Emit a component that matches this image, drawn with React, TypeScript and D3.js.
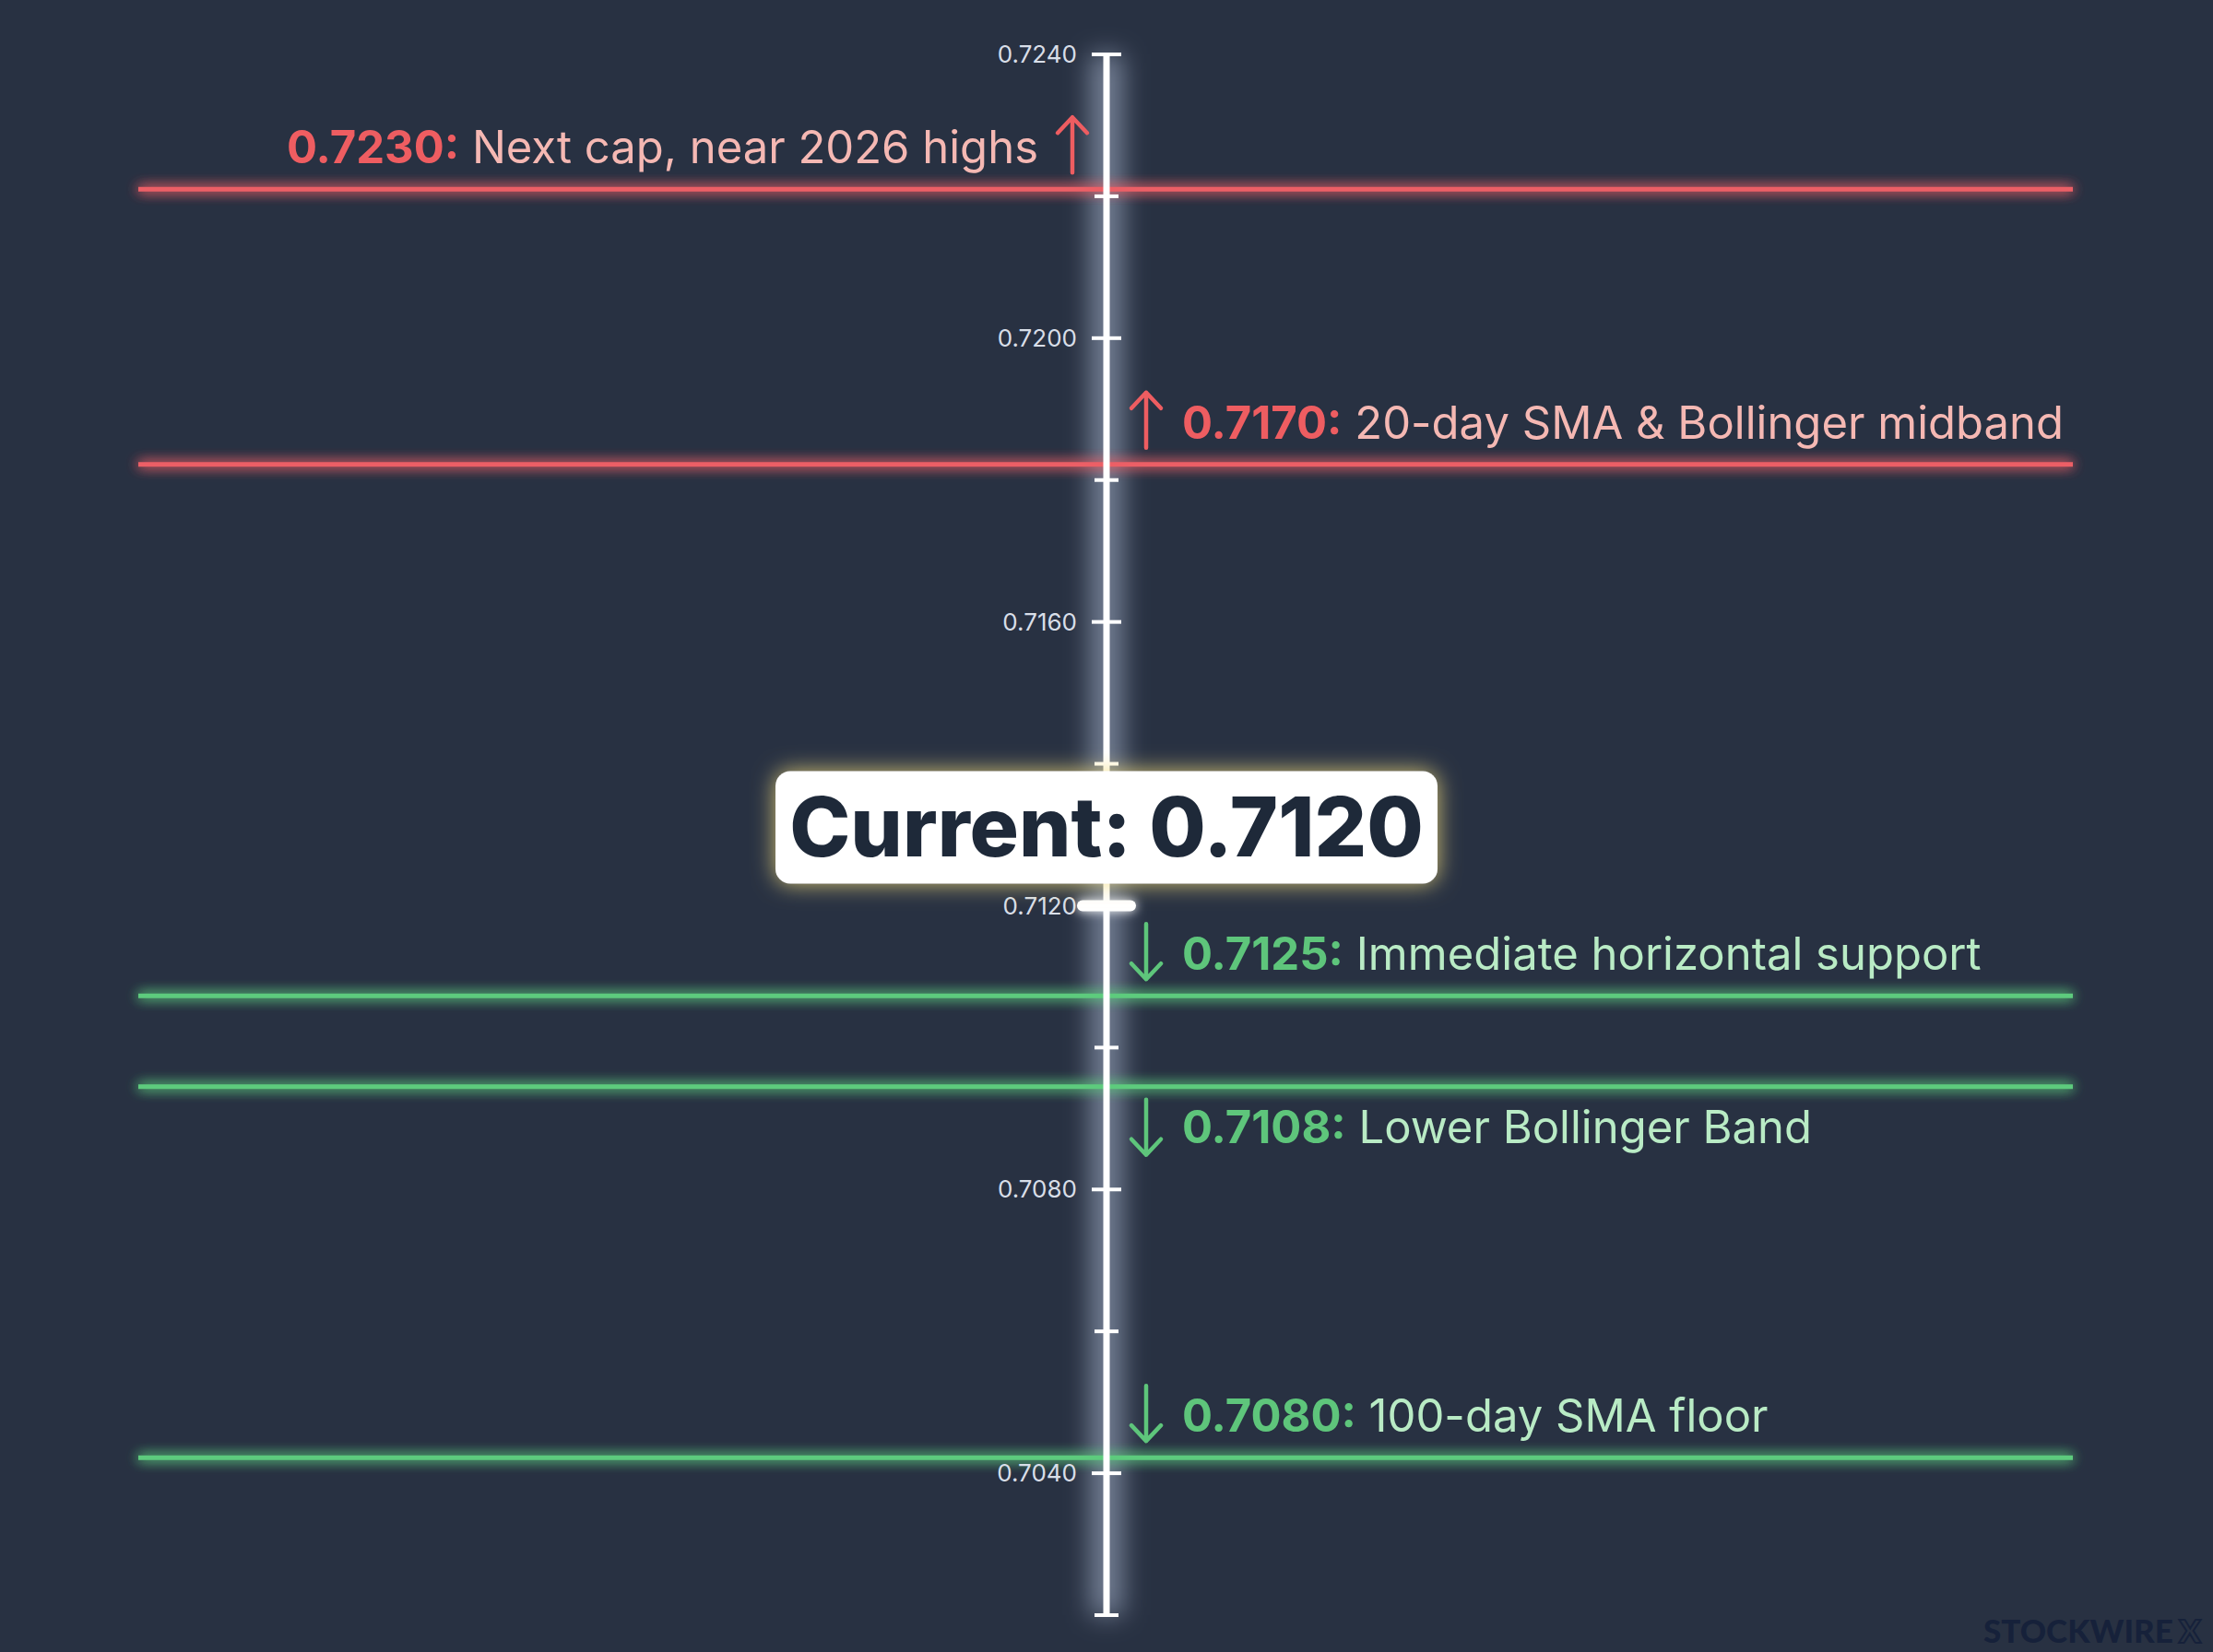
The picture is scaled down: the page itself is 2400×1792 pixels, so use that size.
import React from "react";
import * as d3 from "d3";

const W = 2400;
const H = 1792;

// axis
const axisTicks = [0.724, 0.722, 0.72, 0.718, 0.716, 0.714, 0.712, 0.71, 0.708, 0.706, 0.704, 0.702];
const labelledTicks = [0.724, 0.72, 0.716, 0.712, 0.708, 0.704];
const currentPrice = 0.712;

// levels: stated value, where the line sits on the axis, kind, note
const levelValues = ["0.7230", "0.7170", "0.7125", "0.7108", "0.7080"];
const levelPlotted = [0.7221, 0.71822, 0.71073, 0.70945, 0.70422];
const levelKinds = ["resistance", "resistance", "support", "support", "support"];
const levelNotes = [
  "Next cap, near 2026 highs",
  "20-day SMA & Bollinger midband",
  "Immediate horizontal support",
  "Lower Bollinger Band",
  "100-day SMA floor",
];

const COLORS: Record<string, { line: string; value: string; note: string }> = {
  resistance: { line: "#ec5f66", value: "#ee5d61", note: "#f5b8b3" },
  support: { line: "#5dcb7d", value: "#5ec57b", note: "#b9ebc5" },
};

const BG = "#283142";
const FONT = "Inter, 'Noto Sans', sans-serif";

const App: React.FC = () => {
  const axisX = 1200;
  const y = d3.scaleLinear().domain([0.702, 0.724]).range([1752, 59]);
  const x = d3.scaleLinear().domain([0, 1]).range([150, 2248]);

  const arrow = (cx: number, top: number, bottom: number, up: boolean, color: string) => {
    const head = up ? top : bottom;
    const dir = up ? 1 : -1;
    return (
      <path
        d={`M${cx},${top} L${cx},${bottom} M${cx - 16},${head + dir * 17} L${cx},${head} L${cx + 16},${head + dir * 17}`}
        fill="none"
        stroke={color}
        strokeWidth={4.5}
        strokeLinecap="round"
        strokeLinejoin="round"
      />
    );
  };

  return (
    <svg
      width={W}
      height={H}
      viewBox={`0 0 ${W} ${H}`}
      style={{ position: "absolute", left: 0, top: 0, display: "block" }}
      fontFamily={FONT}
    >
      <defs>
        <filter id="lineGlow" filterUnits="userSpaceOnUse" x={0} y={0} width={W} height={H}>
          <feGaussianBlur in="SourceGraphic" stdDeviation="7" result="b" />
          <feMerge>
            <feMergeNode in="b" />
            <feMergeNode in="b" />
            <feMergeNode in="SourceGraphic" />
          </feMerge>
        </filter>
        <filter id="axisGlow" filterUnits="userSpaceOnUse" x={0} y={0} width={W} height={H}>
          <feGaussianBlur in="SourceGraphic" stdDeviation="14" />
        </filter>
        <filter id="boxGlow" filterUnits="userSpaceOnUse" x={0} y={0} width={W} height={H}>
          <feGaussianBlur in="SourceAlpha" stdDeviation="12" result="blur" />
          <feFlood floodColor="#f3dc7c" floodOpacity="0.85" />
          <feComposite in2="blur" operator="in" result="glow" />
          <feMerge>
            <feMergeNode in="glow" />
            <feMergeNode in="SourceGraphic" />
          </feMerge>
        </filter>
        <filter id="tickGlow" filterUnits="userSpaceOnUse" x={0} y={0} width={W} height={H}>
          <feGaussianBlur in="SourceGraphic" stdDeviation="6" result="b" />
          <feMerge>
            <feMergeNode in="b" />
            <feMergeNode in="SourceGraphic" />
          </feMerge>
        </filter>
      </defs>

      <rect width={W} height={H} fill={BG} />

      {/* axis glow */}
      <line
        x1={axisX}
        x2={axisX}
        y1={y(0.724)}
        y2={y(0.702)}
        stroke="#b9c8e2"
        strokeOpacity={0.55}
        strokeWidth={34}
        filter="url(#axisGlow)"
      />

      {/* level lines */}
      {levelPlotted.map((v, i) => (
        <line
          key={`lv${i}`}
          x1={x(0)}
          x2={x(1)}
          y1={y(v)}
          y2={y(v)}
          stroke={COLORS[levelKinds[i]].line}
          strokeWidth={5}
          filter="url(#lineGlow)"
        />
      ))}

      {/* axis */}
      <line x1={axisX} x2={axisX} y1={y(0.724)} y2={y(0.702)} stroke="#ffffff" strokeWidth={7} />
      {axisTicks.map((t) => {
        const major = labelledTicks.includes(t);
        const half = major ? 16 : 13;
        return (
          <line
            key={`t${t}`}
            x1={axisX - half}
            x2={axisX + half}
            y1={y(t)}
            y2={y(t)}
            stroke="#ffffff"
            strokeWidth={4}
          />
        );
      })}
      {labelledTicks.map((t) => (
        <text
          key={`tl${t}`}
          x={axisX - 32}
          y={y(t)}
          dy="0.35em"
          textAnchor="end"
          fontSize={26}
          fill="#d8dee8"
        >
          {t.toFixed(4)}
        </text>
      ))}

      {/* level labels */}
      {levelPlotted.map((v, i) => {
        const c = COLORS[levelKinds[i]];
        const ly = y(v);
        const up = levelKinds[i] === "resistance";
        const leftSide = i === 0;
        const below = i === 3;
        const top = below ? ly + 14 : ly - 78;
        const bottom = below ? ly + 74 : ly - 18;
        const baseline = below ? ly + 61 : ly - 28;
        if (leftSide) {
          return (
            <g key={`lb${i}`}>
              <text x={1126} y={baseline} textAnchor="end" fontSize={49}>
                <tspan fontWeight={700} fill={c.value}>{`${levelValues[i]}:`}</tspan>
                <tspan fill={c.note}>{` ${levelNotes[i]}`}</tspan>
              </text>
              {arrow(1163, top, bottom, up, c.value)}
            </g>
          );
        }
        return (
          <g key={`lb${i}`}>
            {arrow(1243, top, bottom, up, c.value)}
            <text x={1282} y={baseline} fontSize={49}>
              <tspan fontWeight={700} fill={c.value}>{`${levelValues[i]}:`}</tspan>
              <tspan fill={c.note}>{` ${levelNotes[i]}`}</tspan>
            </text>
          </g>
        );
      })}

      {/* current marker */}
      <line
        x1={axisX - 26}
        x2={axisX + 26}
        y1={y(currentPrice)}
        y2={y(currentPrice)}
        stroke="#ffffff"
        strokeWidth={12}
        strokeLinecap="round"
        filter="url(#tickGlow)"
      />
      <g filter="url(#boxGlow)">
        <rect
          x={axisX - 359}
          y={y(currentPrice) - 146}
          width={718}
          height={122}
          rx={16}
          fill="#ffffff"
        />
      </g>
      <text
        x={axisX}
        y={y(currentPrice) - 53}
        textAnchor="middle"
        fontSize={89}
        fontWeight={800}
        fill="#1e2939"
      >
        {`Current: ${currentPrice.toFixed(4)}`}
      </text>

      {/* watermark */}
      <text x={2151} y={1782} fontFamily="Lato, sans-serif" fontWeight={900} fontSize={35} fill="#16213a">
        STOCKWIRE
        <tspan dx={6} fill="none" stroke="#16213a" strokeWidth={2}>X</tspan>
      </text>
    </svg>
  );
};

export default App;
